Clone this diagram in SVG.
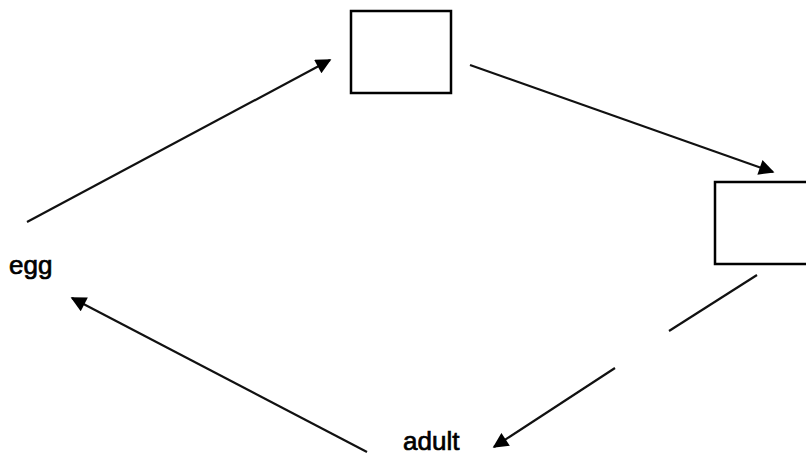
<svg xmlns="http://www.w3.org/2000/svg" width="806" height="459" viewBox="0 0 806 459">
<style>
.box{fill:none;stroke:#000;stroke-width:2.5}
.ln{stroke:#111;stroke-width:2.2;fill:none}
.lbl{font-family:"Liberation Sans",Arial,sans-serif;font-size:26px;fill:#000;stroke:#000;stroke-width:0.7}
</style>
<defs>
<marker id="ah" viewBox="0 0 10 10" refX="9" refY="5" markerWidth="8" markerHeight="7" markerUnits="strokeWidth" orient="auto">
<path d="M0,0 L10,5 L0,10 z" fill="#000"/>
</marker>
</defs>
<rect width="806" height="459" fill="#fff"/>
<g id="box1"><rect class="box" x="351" y="11" width="100" height="82"/></g>
<g id="box2"><rect class="box" x="715" y="182" width="100" height="82"/></g>
<g id="egg"><text class="lbl" x="9" y="274">egg</text></g>
<g id="adult"><text class="lbl" x="403" y="450">adult</text></g>
<g id="connectors">
<line class="ln" x1="27" y1="222" x2="330" y2="60" marker-end="url(#ah)"/>
<line class="ln" x1="470" y1="65" x2="773" y2="172" marker-end="url(#ah)"/>
<line class="ln" x1="757" y1="275" x2="669" y2="331"/>
<line class="ln" x1="615" y1="368" x2="494" y2="447" marker-end="url(#ah)"/>
<line class="ln" x1="367" y1="452" x2="72" y2="298" marker-end="url(#ah)"/>
</g>
</svg>
